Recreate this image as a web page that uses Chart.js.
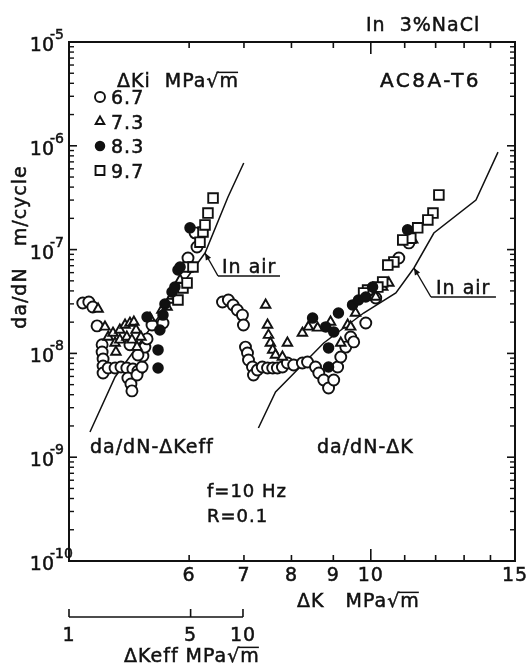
<!DOCTYPE html>
<html>
<head>
<meta charset="utf-8">
<script src="https://cdn.jsdelivr.net/npm/chart.js@4.4.0/dist/chart.umd.min.js"></script>
<style>
  html, body { margin: 0; padding: 0; background: #fff; }
  canvas { display: block; }
</style>
</head>
<body>
<canvas id="crackChart" width="528" height="664"></canvas>
<script>
// axis ranges
const yMin = 1e-10, yMax = 1e-5;
const dkMin = 4.28, dkMax = 15;
const keffMin = 1, keffMax = 366;

// ticks and labels
const yDecades = [1e-10, 1e-9, 1e-8, 1e-7, 1e-6, 1e-5];
const yExponents = ['-10', '-9', '-8', '-7', '-6', '-5'];
const dkTicks = [6, 7, 8, 9, 10, 11, 12, 13, 14];
const dkLabels = [6, 7, 8, 9, 10, 15];
const keffTicks = [1, 5, 10];

// ΔKi groups (MPa√m)
const groupLabels = ['6.7', '7.3', '8.3', '9.7'];

// da/dN - ΔKeff, [ΔKeff, da/dN]
const effCircle = [[1.20,3.06e-8],[1.30,3.13e-8],[1.37,2.80e-8],[1.45,1.84e-8],[1.55,1.21e-8],[1.55,1.03e-8],
  [1.57,8.83e-9],[1.57,7.56e-9],[1.57,6.48e-9],[1.68,7.23e-9],[1.84,7.23e-9],[1.99,7.40e-9],[2.15,7.23e-9],
  [2.33,7.08e-9],[2.49,6.77e-9],[2.18,5.79e-9],[2.27,5.07e-9],[2.30,4.35e-9],[2.46,6.19e-9],[2.63,7.40e-9],
  [2.66,9.44e-9],[2.73,1.15e-8],[2.81,1.38e-8],[3.00,1.88e-8],[3.47,1.96e-8],[4.83,8.3e-8],[5.30,1.45e-7],
  [5.44,1.06e-7],[2.24,1.21e-8],[2.49,9.66e-9]];
const effTriangle = [[1.47,2.68e-8],[1.61,1.80e-8],[1.68,1.44e-8],[1.79,1.57e-8],[1.96,1.68e-8],[2.10,1.88e-8],
  [2.24,1.96e-8],[2.36,2.01e-8],[1.84,1.26e-8],[1.96,1.35e-8],[1.86,1.03e-8],[2.15,1.44e-8],[2.30,1.35e-8],
  [2.43,1.68e-8],[2.46,1.15e-8],[2.59,1.44e-8],[2.92,2.19e-8],[3.42,2.62e-8],[3.66,2.80e-8],[3.80,3.27e-8],
  [3.91,3.57e-8],[4.35,5.1e-8]];
const effFilled = [[2.81,2.24e-8],[3.25,1.08e-8],[3.25,7.23e-9],[3.33,1.68e-8],[3.47,2.34e-8],[3.56,2.99e-8],
  [3.91,3.9e-8],[4.06,4.36e-8],[4.23,6.36e-8],[4.35,6.8e-8],[4.96,1.62e-7]];
const effSquare = [[4.23,3.27e-8],[4.52,4.27e-8],[4.77,4.77e-8],[4.83,6.8e-8],[5.16,6.8e-8],[5.66,1.18e-7],
  [5.89,1.48e-7],[6.05,1.73e-7],[6.29,2.25e-7],[6.73,3.14e-7]];

// da/dN - ΔK, [ΔK, da/dN]
const dkCircle = [[6.59,3.13e-8],[6.70,3.27e-8],[6.79,2.93e-8],[6.87,2.62e-8],[6.97,2.34e-8],[6.99,1.88e-8],
  [7.03,1.15e-8],[7.07,1.01e-8],[7.09,8.64e-9],[7.17,7.40e-9],[7.19,6.19e-9],[7.27,6.92e-9],[7.37,7.40e-9],
  [7.48,7.23e-9],[7.59,7.23e-9],[7.69,7.23e-9],[7.80,7.40e-9],[7.91,8.09e-9],[8.05,7.73e-9],[8.25,8.09e-9],
  [8.37,8.26e-9],[8.56,7.40e-9],[8.64,6.48e-9],[8.76,5.54e-9],[8.88,4.64e-9],[9.01,5.54e-9],[9.11,7.40e-9],
  [9.19,9.23e-9],[9.32,1.15e-8],[9.45,1.44e-8],[9.53,1.29e-8],[9.86,1.96e-8],[10.14,3.42e-8],[10.82,8.3e-8],
  [11.13,1.16e-7]];
const dkTriangle = [[7.44,2.93e-8],[7.48,1.88e-8],[7.50,1.50e-8],[7.54,1.26e-8],[7.59,1.08e-8],[7.65,9.66e-9],
  [7.80,9.23e-9],[7.91,1.26e-8],[8.25,1.57e-8],[8.39,1.80e-8],[8.61,1.76e-8],[8.93,2.01e-8],[9.19,1.26e-8],
  [9.37,1.88e-8],[9.45,1.80e-8],[9.58,2.45e-8],[10.14,3.49e-8],[10.34,4.36e-8],[10.52,4.77e-8],[11.25,1.24e-7]];
const dkFilled = [[8.49,2.19e-8],[8.81,1.80e-8],[9.13,2.45e-8],[9.01,1.61e-8],[8.88,1.13e-8],[8.88,7.40e-9],
  [9.50,2.93e-8],[9.66,3.27e-8],[9.86,3.49e-8],[10.05,4.36e-8],[11.09,1.55e-7]];
const dkSquare = [[12.11,3.36e-7],[11.91,2.25e-7],[11.74,1.93e-7],[11.41,1.62e-7],[11.19,1.29e-7],[10.94,1.24e-7],
  [10.67,7.6e-8],[10.49,7.1e-8],[10.34,4.88e-8],[10.20,4.36e-8],[9.91,4.08e-8],[9.80,3.82e-8]];

// "In air" curves
const airKeff = [[1.32,1.75e-9],[1.84,5.93e-9],[6.05,9.27e-8],[8.20,3.21e-7],[10.1,6.83e-7]];
const airDK = [[7.29,1.91e-9],[7.65,4.25e-9],[8.76,1.26e-8],[9.80,2.45e-8],[10.73,3.82e-8],[11.29,6.65e-8],
  [11.94,1.445e-7],[13.44,3.0e-7],[14.30,8.7e-7]];

const INK = '#111';
const FONT = "'DejaVu Sans', sans-serif";

const styles = [
  { pointStyle: 'circle', radius: 5.5, fill: '#fff' },
  { pointStyle: 'triangle', radius: 5.5, fill: '#fff' },
  { pointStyle: 'circle', radius: 4.8, fill: INK },
  { pointStyle: 'rect', radius: 6.8, fill: '#fff' },
];

const mk = pts => pts.map(([x, y]) => ({ x, y }));

function markerSet(pts, i, axis) {
  const s = styles[i];
  return {
    label: groupLabels[i],
    data: mk(pts),
    xAxisID: axis,
    pointStyle: s.pointStyle,
    pointRadius: s.radius,
    pointBackgroundColor: s.fill,
    pointBorderColor: INK,
    pointBorderWidth: 1.9,
    showLine: false,
  };
}

function airLine(pts, axis) {
  return {
    label: 'In air',
    data: mk(pts),
    xAxisID: axis,
    showLine: true,
    pointRadius: 0,
    borderColor: INK,
    borderWidth: 1.5,
    fill: false,
  };
}

function txt(ctx, s, x, y, opt = {}) {
  ctx.save();
  ctx.font = `${opt.size || 19}px ${FONT}`;
  ctx.textAlign = opt.align || 'left';
  ctx.textBaseline = 'alphabetic';
  ctx.letterSpacing = (opt.ls ?? 1) + 'px';
  ctx.fillStyle = INK;
  ctx.strokeStyle = INK;
  ctx.lineWidth = 0.5;
  ctx.fillText(s, x, y);
  ctx.strokeText(s, x, y);
  const w = ctx.measureText(s).width;
  ctx.restore();
  return w;
}

// unit text ending in √m, with the radical bar over the m
function unitTxt(ctx, s, x, y, size = 19) {
  const w = txt(ctx, s, x, y, { size });
  ctx.save();
  ctx.font = `${size}px ${FONT}`;
  ctx.letterSpacing = '1px';
  const wm = ctx.measureText('m').width;
  ctx.strokeStyle = INK;
  ctx.lineWidth = 1.5;
  ctx.beginPath();
  ctx.moveTo(x + w - wm - 2, y - size * 0.77);
  ctx.lineTo(x + w - 1, y - size * 0.77);
  ctx.stroke();
  ctx.restore();
}

function seg(ctx, x1, y1, x2, y2, lw = 1.5) {
  ctx.save();
  ctx.strokeStyle = INK;
  ctx.lineWidth = lw;
  ctx.beginPath();
  ctx.moveTo(x1, y1);
  ctx.lineTo(x2, y2);
  ctx.stroke();
  ctx.restore();
}

function arrowNote(ctx, tx, ty, ux, uy, len) {
  // leader from underline start up to the curve, then underline under the text
  seg(ctx, ux, uy, tx, ty, 1.4);
  seg(ctx, ux, uy, ux + len, uy, 1.4);
  const a = Math.atan2(ty - uy, tx - ux);
  ctx.save();
  ctx.fillStyle = INK;
  ctx.beginPath();
  ctx.moveTo(tx, ty);
  ctx.lineTo(tx - 7 * Math.cos(a) + 3 * Math.sin(a), ty - 7 * Math.sin(a) - 3 * Math.cos(a));
  ctx.lineTo(tx - 7 * Math.cos(a) - 3 * Math.sin(a), ty - 7 * Math.sin(a) + 3 * Math.cos(a));
  ctx.closePath();
  ctx.fill();
  ctx.restore();
}

const decor = {
  id: 'decor',
  afterDraw(chart) {
    const { ctx, chartArea: a, scales } = chart;
    const { x, x2, y } = scales;

    // frame
    ctx.save();
    ctx.strokeStyle = INK;
    ctx.lineWidth = 2;
    ctx.strokeRect(a.left, a.top, a.right - a.left, a.bottom - a.top);
    ctx.restore();

    // y ticks, inward on both sides
    yDecades.forEach((d, k) => {
      const py = y.getPixelForValue(d);
      seg(ctx, a.left, py, a.left + 8, py, 1.6);
      seg(ctx, a.right, py, a.right - 8, py, 1.6);
      if (k < yDecades.length - 1) {
        for (let m = 2; m <= 9; m++) {
          const pm = y.getPixelForValue(d * m);
          seg(ctx, a.left, pm, a.left + 5, pm, 1.4);
          seg(ctx, a.right, pm, a.right - 5, pm, 1.4);
        }
      }
      txt(ctx, '10', a.left - 15, py + 9, { align: 'right', size: 19, ls: 0 });
      txt(ctx, yExponents[k], a.left - 19, py - 3, { align: 'left', size: 14, ls: 0 });
    });

    // x ticks, inward on top and bottom
    dkTicks.forEach(v => {
      const px = x.getPixelForValue(v);
      const len = v === 10 ? 12 : 6;
      seg(ctx, px, a.bottom, px, a.bottom - len, 1.6);
      seg(ctx, px, a.top, px, a.top + len, 1.6);
    });
    dkLabels.forEach(v => {
      txt(ctx, String(v), x.getPixelForValue(v), a.bottom + 20, { align: 'center', size: 19 });
    });
    unitTxt(ctx, 'ΔK   MPa√m', 297, 607);

    // ΔKeff scale below
    const k0 = x2.getPixelForValue(keffTicks[0]);
    const k1 = x2.getPixelForValue(keffTicks[keffTicks.length - 1]);
    seg(ctx, k0, 617, k1, 617, 1.6);
    keffTicks.forEach(v => {
      const px = x2.getPixelForValue(v);
      seg(ctx, px, 617, px, 609, 1.6);
      txt(ctx, String(v), px, 641, { align: 'center', size: 19 });
    });
    unitTxt(ctx, 'ΔKeff MPa√m', 124, 662);

    // y axis title
    ctx.save();
    ctx.translate(26, 247);
    ctx.rotate(-Math.PI / 2);
    txt(ctx, 'da/dN   m/cycle', 0, 0, { align: 'center', size: 19 });
    ctx.restore();

    // headings
    txt(ctx, 'In  3%NaCl', 366, 31, { size: 19 });
    txt(ctx, 'AC8A-T6', 380, 87, { size: 20, ls: 2.5 });

    // legend
    unitTxt(ctx, 'ΔKi  MPa√m', 117, 87);
    styles.forEach((s, i) => {
      const cy = 97 + i * 24.5;
      ctx.save();
      ctx.fillStyle = s.fill;
      ctx.strokeStyle = INK;
      ctx.lineWidth = 1.9;
      Chart.helpers.drawPoint(ctx, { pointStyle: s.pointStyle, radius: s.radius - 0.5, borderWidth: 1.9, rotation: 0 }, 100, cy);
      ctx.restore();
      txt(ctx, groupLabels[i], 111, cy + 7, { size: 19 });
    });

    // curve names and test conditions
    txt(ctx, 'da/dN-ΔKeff', 90, 453, { size: 19 });
    txt(ctx, 'da/dN-ΔK', 317, 453, { size: 19 });
    txt(ctx, 'f=10 Hz', 207, 497, { size: 18 });
    txt(ctx, 'R=0.1', 207, 522, { size: 18 });

    // "In air" notes
    const lt = [x2.getPixelForValue(6.05), y.getPixelForValue(9.27e-8)];
    arrowNote(ctx, lt[0], lt[1], lt[0] + 13, lt[1] + 23, 62);
    txt(ctx, 'In air', lt[0] + 17, lt[1] + 20, { size: 19 });
    const rt = [x.getPixelForValue(11.29), y.getPixelForValue(6.65e-8)];
    arrowNote(ctx, rt[0], rt[1], rt[0] + 17, rt[1] + 29, 65);
    txt(ctx, 'In air', rt[0] + 22, rt[1] + 26, { size: 19 });
  }
};

new Chart(document.getElementById('crackChart'), {
  type: 'scatter',
  data: {
    datasets: [
      markerSet(effFilled, 2, 'x2'),
      markerSet(effSquare, 3, 'x2'),
      markerSet(effTriangle, 1, 'x2'),
      markerSet(effCircle, 0, 'x2'),
      markerSet(dkFilled, 2, 'x'),
      markerSet(dkSquare, 3, 'x'),
      markerSet(dkTriangle, 1, 'x'),
      markerSet(dkCircle, 0, 'x'),
      airLine(airKeff, 'x2'),
      airLine(airDK, 'x'),
    ]
  },
  options: {
    responsive: false,
    animation: false,
    events: [],
    layout: { padding: { left: 69, right: 13, top: 42, bottom: 103 } },
    plugins: { legend: { display: false }, tooltip: { enabled: false } },
    scales: {
      x: { type: 'logarithmic', min: dkMin, max: dkMax, display: false },
      x2: { type: 'logarithmic', min: keffMin, max: keffMax, display: false },
      y: { type: 'logarithmic', min: yMin, max: yMax, display: false },
    }
  },
  plugins: [decor]
});
</script>
</body>
</html>
